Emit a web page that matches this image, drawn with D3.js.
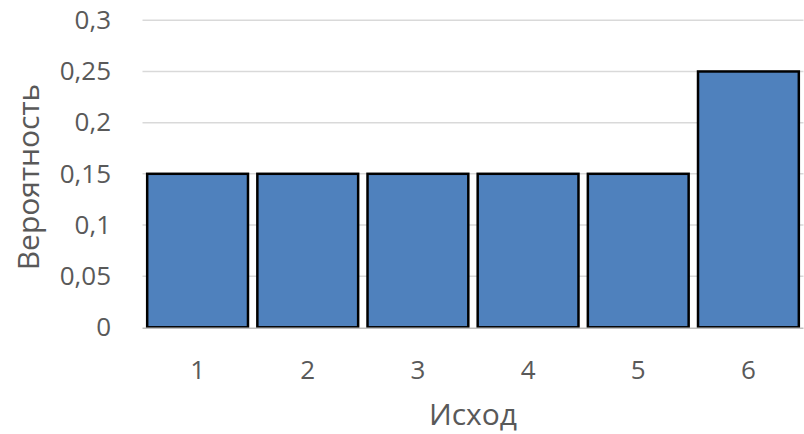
<!DOCTYPE html>
<html>
<head>
<meta charset="utf-8">
<script src="https://cdn.jsdelivr.net/npm/d3@7"></script>
<style>
  html, body { margin: 0; padding: 0; background: #fff; }
  svg { display: block; font-family: "Open Sans", "Liberation Sans", sans-serif; }
</style>
</head>
<body>
<svg id="chart" width="804" height="434"></svg>
<script>
// Outcome of a loaded die and the probability of each face
const outcomes = ["1", "2", "3", "4", "5", "6"];
const probabilities = [0.15, 0.15, 0.15, 0.15, 0.15, 0.25];
const yTicks = [0, 0.05, 0.1, 0.15, 0.2, 0.25, 0.3];
const yTickLabels = ["0", "0,05", "0,1", "0,15", "0,2", "0,25", "0,3"];
const xTitle = "Исход";
const yTitle = "Вероятность";

const svg = d3.select("#chart");
const margin = { left: 142.5, right: 0.5, top: 20.3, bottom: 106.7 };
const W = 804, H = 434;
const textColor = "#595959";

const x = d3.scaleBand()
  .domain(outcomes)
  .range([margin.left, W - margin.right])
  .paddingInner(0.085)
  .paddingOuter(0.0425);

const y = d3.scaleLinear()
  .domain([0, 0.3])
  .range([H - margin.bottom, margin.top]);

// horizontal gridlines
svg.append("g")
  .selectAll("line")
  .data(yTicks.slice(1))
  .join("line")
  .attr("x1", margin.left)
  .attr("x2", W - margin.right)
  .attr("y1", d => y(d))
  .attr("y2", d => y(d))
  .attr("stroke", "#d9d9d9")
  .attr("stroke-width", 1.5);

// bars
svg.append("g")
  .selectAll("rect")
  .data(probabilities)
  .join("rect")
  .attr("x", (d, i) => x(outcomes[i]))
  .attr("width", x.bandwidth())
  .attr("y", d => y(d))
  .attr("height", d => y(0) - y(d))
  .attr("fill", "#4f81bd")
  .attr("stroke", "#000")
  .attr("stroke-width", 2.5);

// category baseline
svg.append("line")
  .attr("x1", margin.left)
  .attr("x2", W - margin.right)
  .attr("y1", y(0) + 1)
  .attr("y2", y(0) + 1)
  .attr("stroke", "#bfbfbf")
  .attr("stroke-width", 1.5);

// y axis labels
const yAxis = d3.axisLeft(y)
  .tickValues(yTicks)
  .tickFormat((d, i) => yTickLabels[i])
  .tickSize(0)
  .tickPadding(0);
const gy = svg.append("g")
  .attr("transform", `translate(111,0)`)
  .call(yAxis);
gy.select(".domain").remove();
gy.selectAll("text")
  .attr("fill", textColor)
  .style("font-size", "26px")
  .style("font-family", "'Open Sans', sans-serif");

// x axis labels (baseline placed directly)
const xAxis = d3.axisBottom(x).tickSize(0).tickPadding(0);
const gx = svg.append("g")
  .attr("transform", `translate(0,379)`)
  .call(xAxis);
gx.select(".domain").remove();
gx.selectAll("text")
  .attr("y", 0)
  .attr("dy", 0)
  .attr("fill", textColor)
  .style("font-size", "26px")
  .style("font-family", "'Open Sans', sans-serif");

// axis titles
svg.append("text")
  .attr("x", (margin.left + W - margin.right) / 2)
  .attr("y", 425)
  .attr("text-anchor", "middle")
  .attr("fill", textColor)
  .style("font-size", "30px")
  .text(xTitle);

svg.append("text")
  .attr("transform", `translate(39,177) rotate(-90)`)
  .attr("text-anchor", "middle")
  .attr("fill", textColor)
  .style("font-size", "30px")
  .text(yTitle);
</script>
</body>
</html>
